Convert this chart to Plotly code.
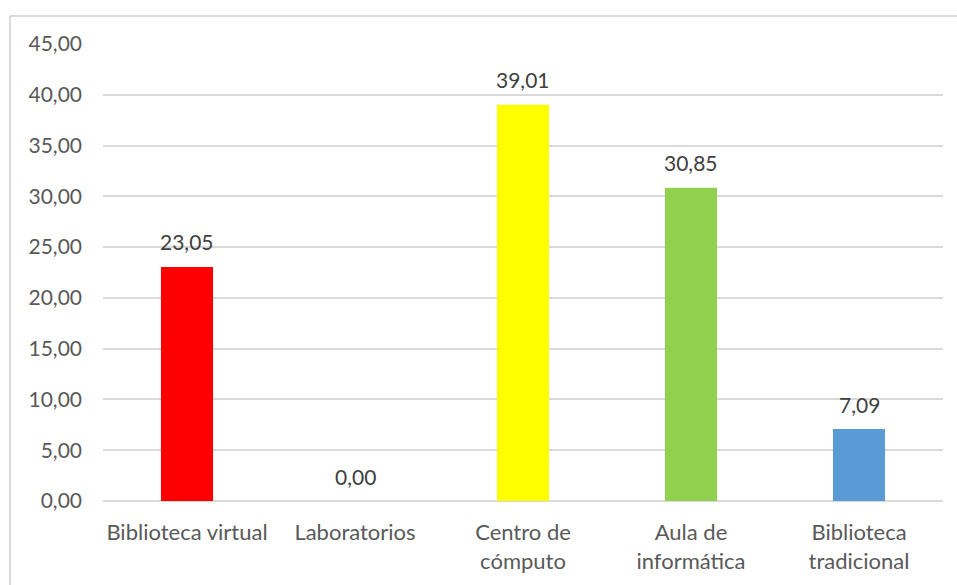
import plotly.graph_objects as go

categories = ["Biblioteca virtual", "Laboratorios", "Centro de<br>cómputo", "Aula de<br>informática", "Biblioteca<br>tradicional"]
values = [23.05, 0.00, 39.01, 30.85, 7.09]
colors = ["#FF0000", "#FF0000", "#FFFF00", "#92D050", "#5B9BD5"]
tick_vals = [0, 5, 10, 15, 20, 25, 30, 35, 40, 45]

FONT = "Lato"

fig = go.Figure(go.Bar(
    x=categories, y=values,
    marker=dict(color=colors, line=dict(width=0)),
    width=0.31,
    cliponaxis=False,
    hoverinfo="skip",
))

for c, v in zip(categories, values):
    fig.add_annotation(x=c, y=v, text=f"{v:.2f}".replace(".", ","),
                       showarrow=False, yanchor="middle", yshift=25,
                       font=dict(family=FONT, size=21, color="#404040"))

L, R, T, B = 103, 14, 44, 84
W, H = 957, 585
pw = W - L - R
ph = H - T - B

xl = (10 - L) / pw
xr = (W + 20 - L) / pw
yt = (T + ph - 16) / ph
yb = (T + ph - (H + 20)) / ph
border = dict(color="#D9D9D9", width=2)

fig.update_layout(
    width=W, height=H,
    margin=dict(l=L, r=R, t=T, b=B, pad=0),
    paper_bgcolor="white", plot_bgcolor="white",
    separators=",.",
    showlegend=False,
    font=dict(family=FONT, size=21, color="#595959"),
    xaxis=dict(showgrid=False, showline=False, ticks="", ticklabelstandoff=16,
               tickfont=dict(family=FONT, size=22, color="#595959")),
    yaxis=dict(range=[0, 45], tickvals=tick_vals, tickformat=".2f",
               showgrid=True, gridcolor="#D9D9D9", gridwidth=1.5,
               zeroline=True, zerolinecolor="#D9D9D9", zerolinewidth=1.5,
               showline=False, ticks="", ticklabelstandoff=20,
               tickfont=dict(family=FONT, size=21, color="#595959")),
    shapes=[
        dict(type="line", xref="paper", yref="paper", x0=xl, x1=xl, y0=yb, y1=yt,
             line=border, layer="below"),
        dict(type="line", xref="paper", yref="paper", x0=xl, x1=xr, y0=yt, y1=yt,
             line=border, layer="below"),
    ],
)

fig.write_html(
    "out.html",
    config={"displayModeBar": False},
    post_script="document.body.style.margin='0';document.body.style.overflow='hidden';",
)
